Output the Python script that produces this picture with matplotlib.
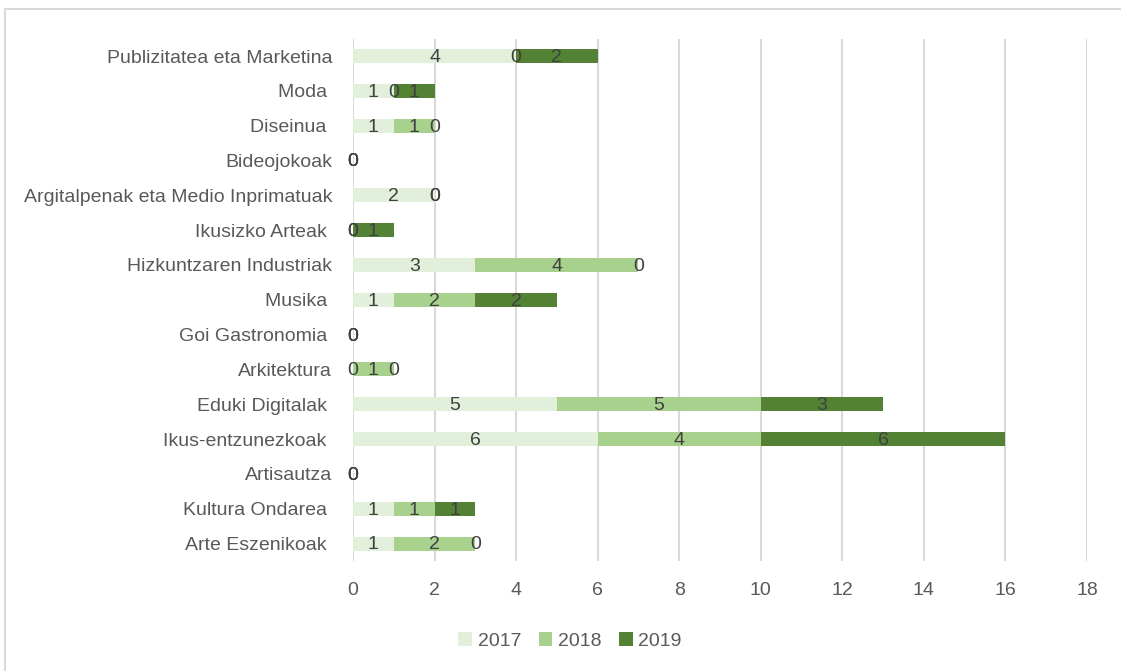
import matplotlib.pyplot as plt
from matplotlib.patches import Rectangle

plt.rcParams['font.family'] = ['Liberation Sans', 'DejaVu Sans']

# categories bottom -> top
sectors = ['Arte Eszenikoak ', 'Kultura Ondarea ', 'Artisautza', 'Ikus-entzunezkoak ',
           'Eduki Digitalak ', 'Arkitektura', 'Goi Gastronomia ', 'Musika ',
           'Hizkuntzaren Industriak', 'Ikusizko Arteak ', 'Argitalpenak eta Medio Inprimatuak',
           'Bideojokoak', 'Diseinua ', 'Moda ', 'Publizitatea eta Marketina']
v2017 = [1, 1, 0, 6, 5, 0, 0, 1, 3, 0, 2, 0, 1, 1, 4]
v2018 = [2, 1, 0, 4, 5, 1, 0, 2, 4, 0, 0, 0, 1, 0, 0]
v2019 = [0, 1, 0, 6, 3, 0, 0, 2, 0, 1, 0, 0, 0, 1, 2]
years = ['2017', '2018', '2019']
colors = ['#E2EFDA', '#A9D18E', '#548235']

fig = plt.figure(figsize=(11.21, 6.71), dpi=100)
ax = fig.add_axes([353 / 1121, 1 - 561 / 671, (1087 - 353) / 1121, (561 - 38.6) / 671])

# outer frame
fig.patches.append(Rectangle((5 / 1121, -0.01), 1.0, 1 - 9 / 671 + 0.01, transform=fig.transFigure,
                             fill=False, edgecolor='#D9D9D9', linewidth=1.5))

y = range(len(sectors))
left = [0] * len(sectors)
for vals, yr, c in zip([v2017, v2018, v2019], years, colors):
    ax.barh(y, vals, left=left, height=0.4, color=c, label=yr, zorder=2)
    for i, v in enumerate(vals):
        ax.text(left[i] + v / 2, i - 0.04, str(v), ha='center', va='center',
                fontsize=14, color='#404040', zorder=3)
    left = [l + v for l, v in zip(left, vals)]

ax.set_xlim(0, 18)
ax.set_ylim(-0.5, len(sectors) - 0.5)
ax.set_xticks(range(0, 19, 2))
ax.set_yticks(list(y))
ax.set_yticklabels(sectors)
ax.tick_params(axis='both', length=0, labelsize=14, colors='#595959')
ax.tick_params(axis='x', pad=15)
ax.tick_params(axis='y', pad=15)
ax.grid(axis='x', color='#D9D9D9', linewidth=1.5, zorder=0)
for s in ax.spines.values():
    s.set_visible(False)

leg = fig.legend(loc='center', bbox_to_anchor=(570 / 1121, 1 - 641 / 671), ncol=3, frameon=False,
                 fontsize=14, handlelength=0.7, handleheight=0.7, columnspacing=0.9,
                 handletextpad=0.3)
for t in leg.get_texts():
    t.set_color('#595959')

plt.savefig('out.png', dpi=100)
